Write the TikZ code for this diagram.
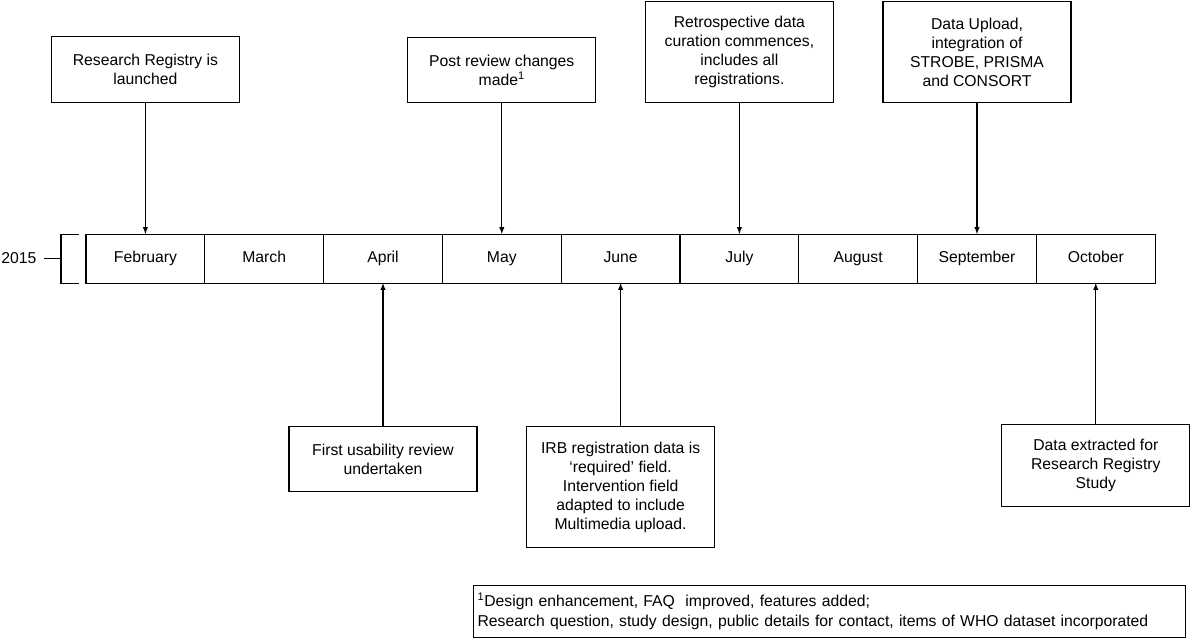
\documentclass[tikz,border=0pt]{standalone}
\usepackage{fontspec}
\setmainfont{Liberation Sans}
\usepackage{tikz}
\usetikzlibrary{positioning,arrows}

\tikzset{
 month/.style={draw, outer sep=0pt, inner sep=0pt, minimum width=89.1pt, minimum height=36.75pt, text height=8.5pt, text depth=2.5pt},
 event/.style={draw, align=center, inner sep=2pt, minimum width=141pt},
}

\begin{document}
\begin{tikzpicture}[font=\fontsize{11.8pt}{14.25pt}\selectfont, >=latex, line width=0.8pt]
\useasboundingbox (0,0) rectangle (894pt,-478.5pt);
% months
\node[month, anchor=west] (feb) at (64.5pt,-193.9pt) {February};
\node[month, right=0pt of feb] (mar) {March};
\node[month, right=0pt of mar] (apr) {April};
\node[month, right=0pt of apr] (may) {May};
\node[month, right=0pt of may] (jun) {June};
\node[month, right=0pt of jun] (jul) {July};
\node[month, right=0pt of jul] (aug) {August};
\node[month, right=0pt of aug] (sep) {September};
\node[month, right=0pt of sep] (oct) {October};

% year bracket
\coordinate (bt) at ([xshift=-5.25pt]feb.north west);
\coordinate (bb) at ([xshift=-5.25pt]feb.south west);
\coordinate (bm) at ([xshift=-18.75pt]feb.west);
\coordinate (tick) at ([xshift=-31.5pt]feb.west);
\node[left=2pt of tick] (year) {2015};
\draw (bt) -| (bm) |- (bb);
\draw (tick) -- (bm);

% events above
\node[event, minimum height=49.5pt, above=98.25pt of feb] (launch) {Research Registry is\\launched};
\node[event, minimum height=48.75pt, above=98.25pt of may] (post) {Post review changes\\made\textsuperscript{1}};
\node[event, minimum height=75.75pt, above=98.25pt of jul] (retro) {Retrospective data\\curation commences,\\includes all\\registrations.};
\node[event, minimum height=75.75pt, above=98.25pt of sep] (upload) {Data Upload,\\integration of\\STROBE, PRISMA\\and CONSORT};

% events below
\node[event, minimum height=48.75pt, below=107.25pt of apr] (usab) {First usability review\\undertaken};
\node[event, minimum height=90.75pt, below=107.25pt of jun] (irb) {IRB registration data is\\‘required’ field.\\Intervention field\\adapted to include\\Multimedia upload.};
\node[event, minimum height=61.5pt, below=105.75pt of oct] (extract) {Data extracted for\\Research Registry\\Study};

% footnote
\node[draw, anchor=north west, align=left, inner xsep=3pt, text width=528pt, minimum height=39pt] (note) at (354.75pt,-438.75pt) {\textsuperscript{1}Design enhancement, FAQ~ improved, features added;\\[1pt]Research question, study design, public details for contact, items of WHO dataset incorporated};

% edges
\draw[->] (launch) -- (feb);
\draw[->] (post) -- (may);
\draw[->] (retro) -- (jul);
\draw[->] (upload) -- (sep);
\draw[->] (usab) -- (apr);
\draw[->] (irb) -- (jun);
\draw[->] (extract) -- (oct);
\end{tikzpicture}
\end{document}
